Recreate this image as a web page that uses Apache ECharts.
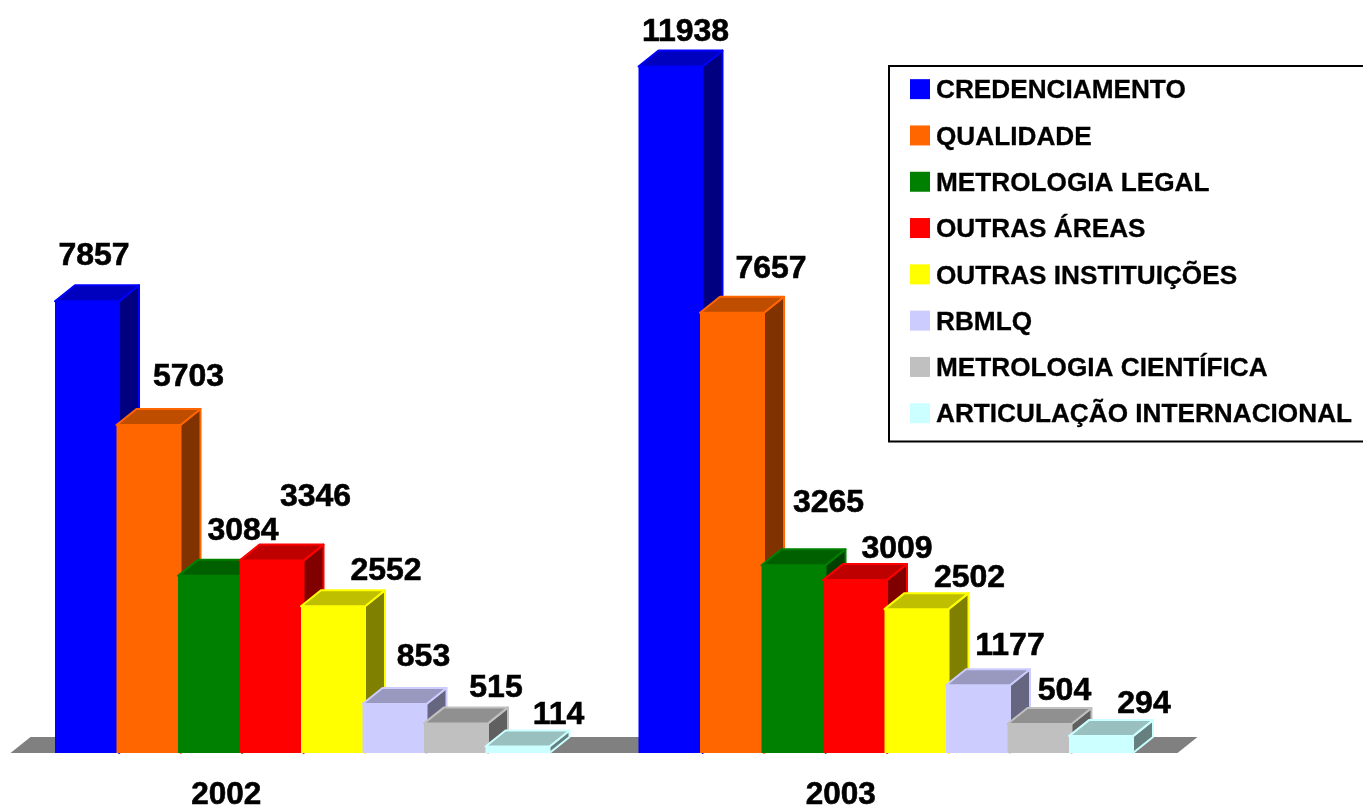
<!DOCTYPE html>
<html>
<head>
<meta charset="utf-8">
<title>Chart</title>
<style>
  html, body { margin: 0; padding: 0; background: #fff; overflow: hidden; }
  #chart { width: 1363px; height: 807px; }
</style>
<script src="https://cdn.jsdelivr.net/npm/echarts@6/dist/echarts.min.js"></script>
</head>
<body>
<div id="chart"></div>
<script>
const years = ["2002", "2003"];
const credenciamento = [7857, 11938];
const qualidade = [5703, 7657];
const metrologiaLegal = [3084, 3265];
const outrasAreas = [3346, 3009];
const outrasInstituicoes = [2552, 2502];
const rbmlq = [853, 1177];
const metrologiaCientifica = [515, 504];
const articulacao = [114, 294];

const seriesNames = [
  "CREDENCIAMENTO",
  "QUALIDADE",
  "METROLOGIA LEGAL",
  "OUTRAS ÁREAS",
  "OUTRAS INSTITUIÇÕES",
  "RBMLQ",
  "METROLOGIA CIENTÍFICA",
  "ARTICULAÇÃO INTERNACIONAL"
];
const seriesValues = [
  credenciamento,
  qualidade,
  metrologiaLegal,
  outrasAreas,
  outrasInstituicoes,
  rbmlq,
  metrologiaCientifica,
  articulacao
];
const colorList = ["#0000ff", "#ff6600", "#008000", "#ff0000", "#ffff00", "#ccccff", "#c0c0c0", "#ccffff"];

// the labels sit by hand in the original, so each one has its own shift [2002, 2003]
const labelShift = [
  [[7, -45], [15, -34]],
  [[40, -48], [39, -44]],
  [[33, -44], [35, -62]],
  [[44, -63], [42, -31]],
  [[53, -35], [53, -31]],
  [[29, -47], [32, -39]],
  [[40, -35], [25, -33]],
  [[41, -31], [43, -32]]
];

const barStep = 61.5;
const barWidth = 64;
const depthX = 20;
const depthY = 16;
const groupOffset = -247.25;
const fontName = "'Liberation Sans', Arial, sans-serif";
const labelSize = 32;

// top and side faces are the face colour multiplied down
function shade(color, factor) {
  const c = echarts.color.parse(color);
  return "rgb(" + Math.round(c[0] * factor) + "," + Math.round(c[1] * factor) + "," + Math.round(c[2] * factor) + ")";
}

function renderBar(seriesIndex) {
  return function(params, api) {
    const cat = api.value(0);
    const val = api.value(1);
    const top = api.coord([cat, val]);
    const base = api.coord([cat, 0]);
    const color = colorList[seriesIndex];
    const x0 = top[0] + groupOffset + seriesIndex * barStep;
    const x1 = x0 + barWidth;
    const shift = labelShift[seriesIndex][cat];
    const edge = { stroke: color, lineWidth: 2, lineJoin: "round" };
    return {
      type: "group",
      children: [
        {
          type: "polygon",
          shape: { points: [[x1, top[1]], [x1 + depthX, top[1] - depthY], [x1 + depthX, base[1] - depthY], [x1, base[1]]] },
          style: Object.assign({ fill: shade(color, 0.5) }, edge)
        },
        {
          type: "polygon",
          shape: { points: [[x0, top[1]], [x0 + depthX, top[1] - depthY], [x1 + depthX, top[1] - depthY], [x1, top[1]]] },
          style: Object.assign({ fill: shade(color, 0.75) }, edge)
        },
        {
          type: "rect",
          shape: { x: x0, y: top[1], width: barWidth, height: base[1] - top[1] },
          style: { fill: color }
        },
        {
          type: "text",
          z2: 10,
          style: {
            x: x0 + barWidth / 2 + shift[0],
            y: top[1] + shift[1],
            text: String(val),
            fontFamily: fontName,
            fontWeight: "bold",
            fontSize: labelSize,
            fill: "#000",
            stroke: "#000",
            lineWidth: 0.6,
            align: "center",
            verticalAlign: "middle"
          }
        }
      ]
    };
  };
}

function renderFloor(params, api) {
  const base = api.coord([0, 0]);
  const grid = params.coordSys;
  return {
    type: "polygon",
    shape: {
      points: [
        [grid.x, base[1]],
        [grid.x + depthX, base[1] - depthY],
        [grid.x + grid.width + depthX, base[1] - depthY],
        [grid.x + grid.width, base[1]]
      ]
    },
    style: { fill: "#808080" }
  };
}

const series = [
  {
    type: "custom",
    name: "piso",
    silent: true,
    renderItem: renderFloor,
    data: [[0, 0]]
  }
];
seriesNames.forEach(function(name, i) {
  series.push({
    type: "custom",
    name: name,
    itemStyle: { color: colorList[i] },
    renderItem: renderBar(i),
    encode: { x: 0, y: 1 },
    data: seriesValues[i].map(function(v, c) {
      return [c, v];
    })
  });
});

const yearLabel = { fontFamily: fontName, fontWeight: "bold", fontSize: 31.5, color: "#000", textBorderColor: "#000", textBorderWidth: 0.6 };

const myChart = echarts.init(document.getElementById("chart"));
myChart.setOption({
  animation: false,
  backgroundColor: "#fff",
  textStyle: { fontFamily: fontName },
  legend: {
    data: seriesNames,
    orient: "vertical",
    left: 889,
    top: 66,
    selectedMode: false,
    icon: "rect",
    itemWidth: 20,
    itemHeight: 20,
    itemGap: 20,
    padding: [12, 22, 13, 21],
    borderColor: "#000",
    borderWidth: 2,
    backgroundColor: "#fff",
    formatter: "{t|{name}}",
    textStyle: {
      rich: {
        t: {
          color: "#000",
          fontWeight: "bold",
          fontSize: 26.2,
          padding: [4, 0, 0, 1],
          textBorderColor: "#000",
          textBorderWidth: 0.3,
          fontFamily: fontName
        }
      }
    }
  },
  grid: { left: 10.5, right: 185.5, top: 63, bottom: 54, outerBoundsMode: "none" },
  xAxis: {
    type: "category",
    data: years,
    axisLine: { show: false },
    axisTick: { show: false },
    axisLabel: {
      margin: 26,
      formatter: function(v) {
        return "{y" + v + "|" + v + "}";
      },
      rich: {
        // year labels are not centred under their groups in the original
        y2002: Object.assign({ padding: [0, 152, 0, 0] }, yearLabel),
        y2003: Object.assign({ padding: [0, 90, 0, 0] }, yearLabel)
      }
    }
  },
  yAxis: {
    type: "value",
    min: 0,
    max: 12000,
    show: false,
    splitLine: { show: false }
  },
  series: series
});
</script>
</body>
</html>
